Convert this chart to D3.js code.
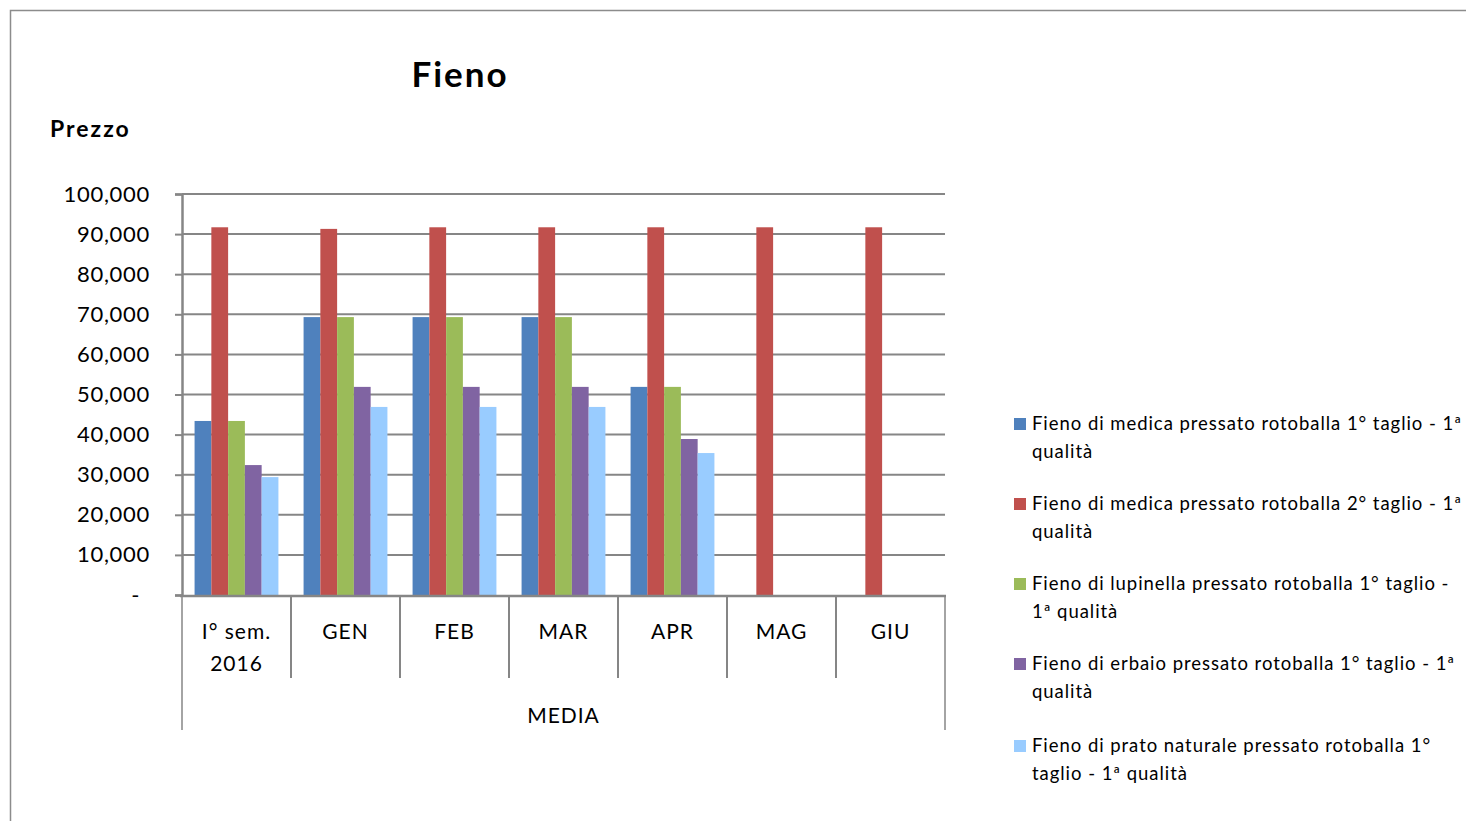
<!DOCTYPE html>
<html><head><meta charset="utf-8">
<script src="https://cdn.jsdelivr.net/npm/d3@7"></script>
<style>
html,body{margin:0;padding:0;background:#fff;}
svg{display:block;font-family:Lato, "Open Sans", sans-serif;}
</style></head>
<body>
<svg id="chart" width="1466" height="821"></svg>
<script>
const categories = ["I° sem. 2016","GEN","FEB","MAR","APR","MAG","GIU"];
const categoryLines = [["I° sem.","2016"],["GEN"],["FEB"],["MAR"],["APR"],["MAG"],["GIU"]];
const groupLabel = "MEDIA";
const seriesNames = [
  "Fieno di medica pressato rotoballa 1° taglio - 1ª qualità",
  "Fieno di medica pressato rotoballa 2° taglio - 1ª qualità",
  "Fieno di lupinella pressato rotoballa 1° taglio - 1ª qualità",
  "Fieno di erbaio pressato rotoballa 1° taglio - 1ª qualità",
  "Fieno di prato naturale pressato rotoballa 1° taglio - 1ª qualità"
];
const legendLines = [
  ["Fieno di medica pressato rotoballa 1° taglio - 1ª","qualità"],
  ["Fieno di medica pressato rotoballa 2° taglio - 1ª","qualità"],
  ["Fieno di lupinella pressato rotoballa 1° taglio -","1ª qualità"],
  ["Fieno di erbaio pressato rotoballa 1° taglio - 1ª","qualità"],
  ["Fieno di prato naturale pressato rotoballa 1°","taglio - 1ª qualità"]
];
const medica1 =   [43400, 69300, 69300, 69300, 51900, null, null];
const medica2 =   [91700, 91300, 91700, 91700, 91700, 91700, 91700];
const lupinella = [43400, 69300, 69300, 69300, 51900, null, null];
const erbaio =    [32400, 51900, 51900, 51900, 38900, null, null];
const prato =     [29400, 46900, 46900, 46900, 35400, null, null];
const seriesValues = [medica1, medica2, lupinella, erbaio, prato];
const colors = ["#4F81BD","#C0504D","#9BBB59","#8064A2","#99CCFF"];
const yTicks = [0,10000,20000,30000,40000,50000,60000,70000,80000,90000,100000];

const svg = d3.select("#chart");
const L = 182, R = 945, T = 194, B = 595;
const grid = "#868686";

// chart border
svg.append("path").attr("d","M10.5,821 L10.5,10.5 L1466,10.5")
  .attr("fill","none").attr("stroke","#8c8c8c").attr("stroke-width",1.5);

const x = d3.scaleBand().domain(categories).range([L,R]).padding(0);
const x1 = d3.scaleBand().domain(d3.range(5)).range([0,x.bandwidth()]).paddingInner(0).paddingOuter(0.75);
const y = d3.scaleLinear().domain([0,100000]).range([B,T]);

// gridlines
svg.append("g").selectAll("line").data(yTicks.filter(d=>d>0)).join("line")
  .attr("x1",L).attr("x2",R).attr("y1",d=>y(d)).attr("y2",d=>y(d))
  .attr("stroke",grid).attr("stroke-width",2);

// y axis
const fmt = d => d===0 ? "-" : d3.format(",")(d);
const yAxis = svg.append("g").attr("transform",`translate(${L},0)`)
  .call(d3.axisLeft(y).tickValues(yTicks).tickSize(7).tickPadding(25).tickFormat(fmt));
yAxis.select(".domain").attr("stroke",grid).attr("stroke-width",2.5);
yAxis.selectAll(".tick line").attr("stroke",grid).attr("stroke-width",2);
yAxis.selectAll(".tick text").attr("font-size",22).attr("fill","#000")
  .attr("font-family","Lato, sans-serif").attr("letter-spacing",0.7)
  .attr("x", d => d===0 ? -42 : -32);

// bars
const flat = [];
seriesValues.forEach((vals,si)=>vals.forEach((v,ci)=>{ if(v!=null) flat.push({si,ci,v}); }));
svg.append("g").selectAll("rect").data(flat).join("rect")
  .attr("x",d=>x(categories[d.ci])+x1(d.si))
  .attr("width",x1.bandwidth())
  .attr("y",d=>y(d.v))
  .attr("height",d=>B-y(d.v))
  .attr("fill",d=>colors[d.si]);

// x axis line
svg.append("line").attr("x1",L-2).attr("x2",R+1).attr("y1",B+1).attr("y2",B+1)
  .attr("stroke",grid).attr("stroke-width",2.5);

// category separators
const bounds = categories.map(c=>x(c)).concat([R]);
svg.append("g").selectAll("line").data(bounds).join("line")
  .attr("x1",d=>d).attr("x2",d=>d)
  .attr("y1",B).attr("y2",(d,i)=> (i===0||i===bounds.length-1) ? 730 : 678)
  .attr("stroke",grid).attr("stroke-width",(d,i)=> (i===0||i===bounds.length-1) ? 1.5 : 2);

// category labels
const catG = svg.append("g").attr("font-size",21).attr("letter-spacing",1).attr("fill","#000").attr("text-anchor","middle");
categories.forEach((c,i)=>{
  const t = catG.append("text").attr("x",x(c)+x.bandwidth()/2).attr("y",639);
  categoryLines[i].forEach((ln,j)=>t.append("tspan").attr("x",x(c)+x.bandwidth()/2).attr("dy",j===0?0:32).text(ln));
});
svg.append("text").attr("x",(L+R)/2).attr("y",723).attr("text-anchor","middle")
  .attr("font-size",21).attr("letter-spacing",1).attr("fill","#000").text(groupLabel);

// titles
svg.append("text").attr("x",460).attr("y",87).attr("text-anchor","middle")
  .attr("font-size",35).attr("letter-spacing",2).attr("font-weight","bold").attr("fill","#000").text("Fieno");
svg.append("text").attr("x",50).attr("y",137)
  .attr("font-size",23).attr("letter-spacing",2).attr("font-weight","bold").attr("fill","#000").text("Prezzo");

// legend
const legY = [424,504,584,664,746];
const lg = svg.append("g");
seriesNames.forEach((n,i)=>{
  lg.append("rect").attr("x",1014).attr("y",legY[i]-6).attr("width",12).attr("height",12).attr("fill",colors[i]);
  const t = lg.append("text").attr("x",1032).attr("y",legY[i]+6).attr("font-size",18.5).attr("letter-spacing",0.95).attr("fill","#000");
  legendLines[i].forEach((ln,j)=>t.append("tspan").attr("x",1032).attr("dy",j===0?0:28).text(ln));
});
</script>
</body></html>
